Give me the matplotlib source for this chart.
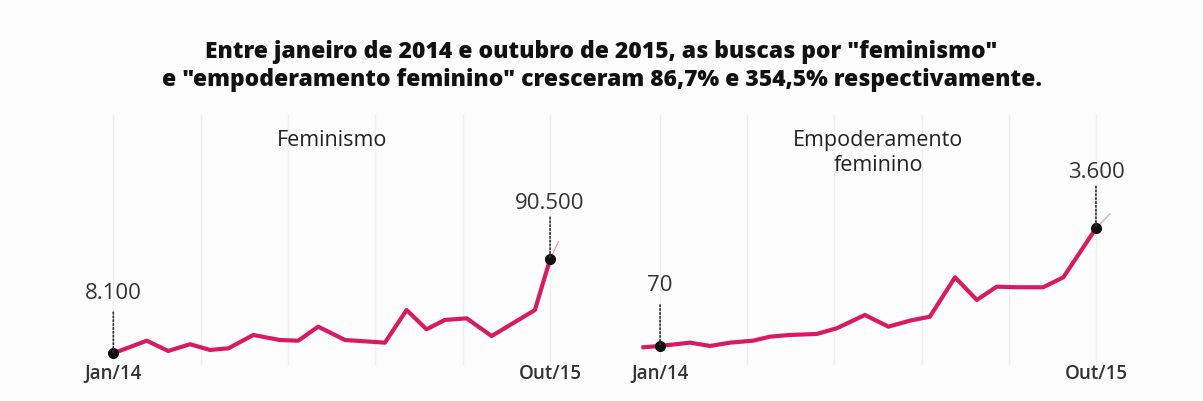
import matplotlib.pyplot as plt
import matplotlib.transforms as mtransforms

plt.rcParams['font.family'] = ['Open Sans', 'DejaVu Sans']

titulo = ('Entre janeiro de 2014 e outubro de 2015, as buscas por "feminismo"\n'
          'e "empoderamento feminino" cresceram 86,7% e 354,5% respectivamente.')

# meses desde jan/2014 (0) até out/2015 (21)
meses_fem = [0, 1.61, 2.64, 3.69, 4.65, 5.53, 6.73, 8.01, 8.89, 9.85, 11.14,
             13.06, 14.1, 15.06, 15.94, 16.99, 18.19, 20.27, 21]
buscas_fem = [8100, 19100, 10100, 16000, 11000, 12400, 24100, 19700, 19100,
              31400, 19700, 17400, 46000, 29100, 37300, 38700, 23200, 46000, 90500]
cauda_fem = ([21, 21.4], [90500, 105900])

meses_emp = [-0.8, 0, 1.45, 2.41, 3.37, 4.49, 5.3, 6.26, 7.55, 8.51, 9.87, 11.0,
             12.04, 13.0, 14.21, 15.26, 16.22, 17.18, 18.46, 19.43, 21]
buscas_emp = [31, 70, 169, 70, 169, 229, 349, 400, 430, 600, 1000, 649, 829,
              949, 2131, 1450, 1849, 1831, 1831, 2131, 3600]
cauda_emp = ([21, 21.67], [3600, 4030])

paineis = [
    dict(nome='Feminismo', ny=0.9, x=meses_fem, y=buscas_fem, cauda=cauda_fem,
         ini='8.100', fim='90.500', ylim=(-2190, 216960),
         pos=[0.06825, 0.0898, 0.41496, 0.6234]),
    dict(nome='Empoderamento\nfeminino', ny=0.848, x=meses_emp, y=buscas_emp,
         cauda=cauda_emp, ini='70', fim='3.600', ylim=(-501, 6999),
         pos=[0.52278, 0.0898, 0.41413, 0.6234]),
]

rosa = '#d81b60'
cinza = '#333333'

fig = plt.figure(figsize=(12.03, 4.01), dpi=100, facecolor='#fdfdfd')
fig.text(0.5, 0.835, titulo, ha='center', va='center', fontsize=16.5,
         fontweight='heavy', color='#111111', linespacing=1.25)

for p in paineis:
    ax = fig.add_axes(p['pos'])
    ax.set_facecolor('#fdfdfd')
    ax.set_xlim(-1.5, 22.5)
    ax.set_ylim(*p['ylim'])
    for g in [0, 4.2, 8.4, 12.6, 16.8, 21]:
        ax.axvline(g, color='#efefef', lw=1, zorder=0)
    ax.plot(p['x'], p['y'], color=rosa, lw=3, solid_joinstyle='round', zorder=2)
    ax.plot(*p['cauda'], color='#eca4bf', lw=1, zorder=1)

    x0, y0 = p['x'][p['x'].index(0)], p['y'][p['x'].index(0)]
    x1, y1 = p['x'][-1], p['y'][-1]
    ax.plot([x0, x1], [y0, y1], 'o', color='#111111', ms=7, zorder=3)
    for (xx, yy, lab, lin, txt) in [(x0, y0, p['ini'], 41, 60), (x1, y1, p['fim'], 42, 56)]:
        ax.annotate('', xy=(xx, yy), xytext=(0, lin), textcoords='offset pixels',
                    arrowprops=dict(arrowstyle='-', linestyle=(0, (1, 1.3)),
                                    color=cinza, lw=1.2, shrinkA=0, shrinkB=0))
        ax.annotate(lab, xy=(xx, yy), xytext=(0, txt), textcoords='offset pixels',
                    ha='center', va='center', fontsize=16, color=cinza)

    trans = mtransforms.blended_transform_factory(ax.transData, ax.transAxes)
    ax.text(0, -0.035, 'Jan/14', transform=trans, ha='center', va='center',
            fontsize=13.5, fontweight='semibold', color=cinza)
    ax.text(21, -0.035, 'Out/15', transform=trans, ha='center', va='center',
            fontsize=13.5, fontweight='semibold', color=cinza)
    ax.text(0.5, p['ny'], p['nome'], transform=ax.transAxes, ha='center', va='center',
            fontsize=15.5, color='#222222', linespacing=1.25)

    for s in ax.spines.values():
        s.set_visible(False)
    ax.set_xticks([])
    ax.set_yticks([])

fig.savefig('out.png', dpi=100, facecolor=fig.get_facecolor())
